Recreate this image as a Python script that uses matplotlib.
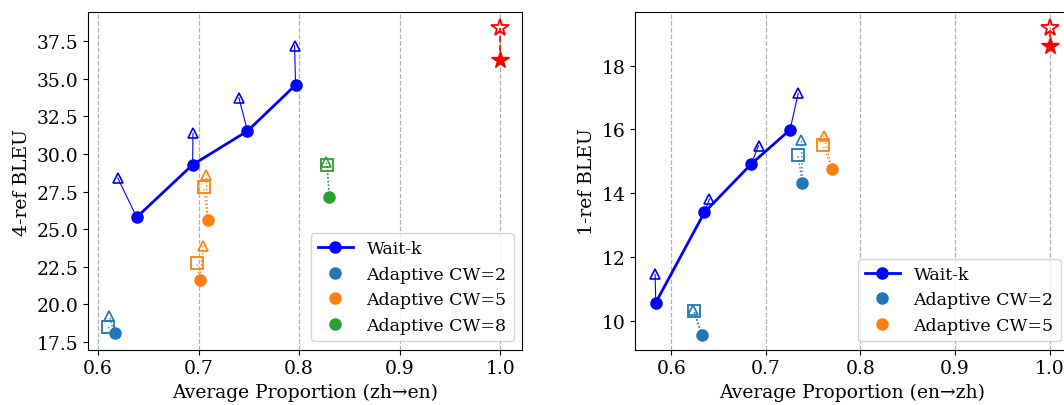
import matplotlib
matplotlib.use("Agg")
import matplotlib.pyplot as plt

plt.rcParams['font.family'] = ['DejaVu Serif']
plt.rcParams['font.size'] = 13.5

# zh->en (left)
zh_waitk_ap = [0.6384, 0.694, 0.7486, 0.7964]
zh_waitk_bleu = [25.79, 29.28, 31.53, 34.59]
zh_waitk_tri_ap = [0.6196, 0.6944, 0.740, 0.7954]
zh_waitk_tri_bleu = [28.40, 31.37, 33.75, 37.21]

zh_adaptive = {
    2: {"ap": [0.6164], "bleu": [18.05],
        "sq_ap": [0.6099], "sq_bleu": [18.49],
        "tri_ap": [0.611], "tri_bleu": [19.2]},
    5: {"ap": [0.709, 0.7014], "bleu": [25.63, 21.59],
        "sq_ap": [0.705, 0.6983], "sq_bleu": [27.78, 22.74],
        "tri_ap": [0.7077, 0.7045], "tri_bleu": [28.62, 23.89]},
    8: {"ap": [0.830], "bleu": [27.14],
        "sq_ap": [0.828], "sq_bleu": [29.25],
        "tri_ap": [0.827], "tri_bleu": [29.45]},
}
zh_full_ap = [1.0, 1.0]
zh_full_bleu = [36.28, 38.37]

# en->zh (right)
en_waitk_ap = [0.5837, 0.6351, 0.6847, 0.7256]
en_waitk_bleu = [10.575, 13.40, 14.92, 15.99]
en_waitk_tri_ap = [0.583, 0.6405, 0.6923, 0.7343]
en_waitk_tri_bleu = [11.46, 13.82, 15.49, 17.13]

en_adaptive = {
    2: {"ap": [0.6322, 0.7386], "bleu": [9.571, 14.32],
        "sq_ap": [0.6246, 0.7339], "sq_bleu": [10.31, 15.20],
        "tri_ap": [0.6235, 0.7376], "tri_bleu": [10.33, 15.66]},
    5: {"ap": [0.7701], "bleu": [14.76],
        "sq_ap": [0.7604], "sq_bleu": [15.52],
        "tri_ap": [0.7611], "tri_bleu": [15.81]},
}
en_full_ap = [1.0, 1.0]
en_full_bleu = [18.63, 19.17]

cw_colors = {2: "tab:blue", 5: "tab:orange", 8: "tab:green"}


def draw(ax, wk_ap, wk_bleu, tri_ap, tri_bleu, adaptive, full_ap, full_bleu):
    ax.grid(axis='x', linestyle='--', color='#b0b0b0', linewidth=0.9)
    ax.set_axisbelow(True)
    for x0, y0, x1, y1 in zip(wk_ap, wk_bleu, tri_ap, tri_bleu):
        ax.plot([x0, x1], [y0, y1], color='blue', linewidth=0.8, zorder=2)
    ax.plot(tri_ap, tri_bleu, linestyle='none', marker='^', markersize=7,
            markerfacecolor='none', markeredgecolor='blue', markeredgewidth=1.2,
            zorder=3)
    ax.plot(wk_ap, wk_bleu, color='blue', linewidth=2, marker='o',
            markersize=8, label='Wait-k', zorder=4)
    for cw, d in adaptive.items():
        c = cw_colors[cw]
        for i in range(len(d["ap"])):
            ax.plot([d["ap"][i], d["sq_ap"][i]], [d["bleu"][i], d["sq_bleu"][i]],
                    color=c, linestyle=':', linewidth=1, zorder=2)
            ax.plot([d["ap"][i], d["tri_ap"][i]], [d["bleu"][i], d["tri_bleu"][i]],
                    color=c, linestyle=':', linewidth=1, zorder=2)
        ax.plot(d["tri_ap"], d["tri_bleu"], linestyle='none', marker='^',
                markersize=7, markerfacecolor='none', markeredgecolor=c,
                markeredgewidth=1.2, zorder=3)
        ax.plot(d["sq_ap"], d["sq_bleu"], linestyle='none', marker='s',
                markersize=8, markerfacecolor='none', markeredgecolor=c,
                markeredgewidth=1.3, zorder=3)
        ax.plot(d["ap"], d["bleu"], linestyle='none', marker='o', markersize=8,
                color=c, label=f'Adaptive CW={cw}', zorder=4)
    ax.plot(full_ap, full_bleu, color='red', linestyle='--', linewidth=1.2, zorder=2)
    ax.plot(full_ap[0], full_bleu[0], linestyle='none', marker='*',
            markersize=13, color='red', zorder=4)
    ax.plot(full_ap[1], full_bleu[1], linestyle='none', marker='*',
            markersize=13, markerfacecolor='none', markeredgecolor='red',
            markeredgewidth=1.3, zorder=4)
    ax.legend(loc='lower right', fontsize=12.5)


fig = plt.figure(figsize=(10.64, 4.06), dpi=100)
ax1 = fig.add_axes([0.0830, 0.1362, 0.4079, 0.8310])
ax2 = fig.add_axes([0.5971, 0.1362, 0.4079, 0.8310])

draw(ax1, zh_waitk_ap, zh_waitk_bleu, zh_waitk_tri_ap, zh_waitk_tri_bleu,
     zh_adaptive, zh_full_ap, zh_full_bleu)
ax1.set_xlim(0.5903, 1.0219)
ax1.set_ylim(16.97, 39.43)
ax1.set_xticks([0.6, 0.7, 0.8, 0.9, 1.0])
ax1.set_yticks([17.5, 20.0, 22.5, 25.0, 27.5, 30.0, 32.5, 35.0, 37.5])
ax1.set_xlabel('Average Proportion (zh→en)')
ax1.set_ylabel('4-ref BLEU')

draw(ax2, en_waitk_ap, en_waitk_bleu, en_waitk_tri_ap, en_waitk_tri_bleu,
     en_adaptive, en_full_ap, en_full_bleu)
ax2.set_xlim(0.5621, 1.0208)
ax2.set_ylim(9.10, 19.67)
ax2.set_xticks([0.6, 0.7, 0.8, 0.9, 1.0])
ax2.set_yticks([10, 12, 14, 16, 18])
ax2.set_xlabel('Average Proportion (en→zh)')
ax2.set_ylabel('1-ref BLEU')

fig.savefig('out.png', dpi=100)
